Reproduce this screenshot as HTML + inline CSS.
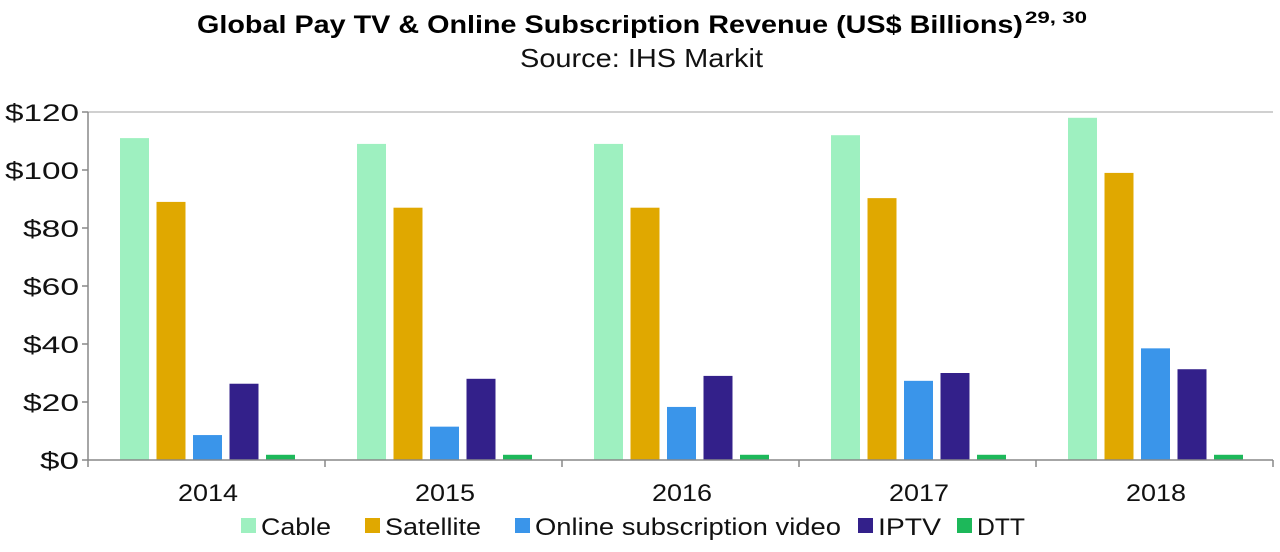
<!DOCTYPE html>
<html><head><meta charset="utf-8"><style>
body{margin:0;background:#fff;width:1280px;height:547px;overflow:hidden;font-family:"Liberation Sans",sans-serif;}
</style></head><body>
<svg width="1280" height="547" xmlns="http://www.w3.org/2000/svg" font-family="Liberation Sans, sans-serif">
<text x="197" y="33" font-size="25" font-weight="bold" fill="#000" textLength="826" lengthAdjust="spacingAndGlyphs">Global Pay TV &amp; Online Subscription Revenue (US$ Billions)</text>
<text x="1025" y="23" font-size="17" font-weight="bold" fill="#000" textLength="62" lengthAdjust="spacingAndGlyphs">29, 30</text>
<text x="520" y="67" font-size="26" fill="#111" textLength="243" lengthAdjust="spacingAndGlyphs">Source: IHS Markit</text>
<line x1="88" y1="112" x2="1273" y2="112" stroke="#d0d0d0" stroke-width="2"/>
<g font-size="24" fill="#111" text-anchor="end" lengthAdjust="spacingAndGlyphs">
<text x="79" y="121" textLength="74" lengthAdjust="spacingAndGlyphs">$120</text>
<text x="79" y="179" textLength="74" lengthAdjust="spacingAndGlyphs">$100</text>
<text x="79" y="237" textLength="56" lengthAdjust="spacingAndGlyphs">$80</text>
<text x="79" y="295" textLength="56" lengthAdjust="spacingAndGlyphs">$60</text>
<text x="79" y="353" textLength="56" lengthAdjust="spacingAndGlyphs">$40</text>
<text x="79" y="411" textLength="56" lengthAdjust="spacingAndGlyphs">$20</text>
<text x="79" y="469" textLength="39" lengthAdjust="spacingAndGlyphs">$0</text>
</g>
<g>
<rect x="120" y="138.1" width="29" height="321.9" fill="#9ef0c0"/>
<rect x="156.5" y="201.9" width="29" height="258.1" fill="#e0a800"/>
<rect x="193" y="435.06" width="29" height="24.94" fill="#3a95ea"/>
<rect x="229.5" y="383.73" width="29" height="76.27" fill="#33208a"/>
<rect x="266" y="454.78" width="29" height="5.22" fill="#1db85a"/>

<rect x="357" y="143.9" width="29" height="316.1" fill="#9ef0c0"/>
<rect x="393.5" y="207.7" width="29" height="252.3" fill="#e0a800"/>
<rect x="430" y="426.65" width="29" height="33.35" fill="#3a95ea"/>
<rect x="466.5" y="378.8" width="29" height="81.2" fill="#33208a"/>
<rect x="503" y="454.78" width="29" height="5.22" fill="#1db85a"/>

<rect x="594" y="143.9" width="29" height="316.1" fill="#9ef0c0"/>
<rect x="630.5" y="207.7" width="29" height="252.3" fill="#e0a800"/>
<rect x="667" y="406.93" width="29" height="53.07" fill="#3a95ea"/>
<rect x="703.5" y="375.9" width="29" height="84.1" fill="#33208a"/>
<rect x="740" y="454.78" width="29" height="5.22" fill="#1db85a"/>

<rect x="831" y="135.2" width="29" height="324.8" fill="#9ef0c0"/>
<rect x="867.5" y="198.13" width="29" height="261.87" fill="#e0a800"/>
<rect x="904" y="380.83" width="29" height="79.17" fill="#3a95ea"/>
<rect x="940.5" y="373" width="29" height="87" fill="#33208a"/>
<rect x="977" y="454.78" width="29" height="5.22" fill="#1db85a"/>

<rect x="1068" y="117.8" width="29" height="342.2" fill="#9ef0c0"/>
<rect x="1104.5" y="172.9" width="29" height="287.1" fill="#e0a800"/>
<rect x="1141" y="348.35" width="29" height="111.65" fill="#3a95ea"/>
<rect x="1177.5" y="369.23" width="29" height="90.77" fill="#33208a"/>
<rect x="1214" y="454.78" width="29" height="5.22" fill="#1db85a"/>
</g>
<g stroke="#888" stroke-width="1.5">
<line x1="88" y1="112" x2="88" y2="460"/>
<line x1="82" y1="112" x2="88" y2="112"/><line x1="82" y1="170" x2="88" y2="170"/><line x1="82" y1="228" x2="88" y2="228"/><line x1="82" y1="286" x2="88" y2="286"/><line x1="82" y1="344" x2="88" y2="344"/><line x1="82" y1="402" x2="88" y2="402"/>
<line x1="82" y1="460" x2="1273" y2="460"/>
<line x1="88" y1="460" x2="88" y2="467"/><line x1="325" y1="460" x2="325" y2="467"/><line x1="562" y1="460" x2="562" y2="467"/><line x1="799" y1="460" x2="799" y2="467"/><line x1="1036" y1="460" x2="1036" y2="467"/><line x1="1273" y1="460" x2="1273" y2="467"/>
</g>
<g font-size="24" fill="#111" text-anchor="middle">
<text x="208" y="501" textLength="60" lengthAdjust="spacingAndGlyphs">2014</text>
<text x="445" y="501" textLength="60" lengthAdjust="spacingAndGlyphs">2015</text>
<text x="682" y="501" textLength="60" lengthAdjust="spacingAndGlyphs">2016</text>
<text x="919" y="501" textLength="60" lengthAdjust="spacingAndGlyphs">2017</text>
<text x="1156" y="501" textLength="60" lengthAdjust="spacingAndGlyphs">2018</text>
</g>
<g font-size="24" fill="#111">
<rect x="241" y="518" width="15" height="15" fill="#9ef0c0"/><text x="261" y="535" textLength="70" lengthAdjust="spacingAndGlyphs">Cable</text>
<rect x="365" y="518" width="15" height="15" fill="#e0a800"/><text x="385" y="535" textLength="96" lengthAdjust="spacingAndGlyphs">Satellite</text>
<rect x="515" y="518" width="15" height="15" fill="#3a95ea"/><text x="535" y="535" textLength="306" lengthAdjust="spacingAndGlyphs">Online subscription video</text>
<rect x="858" y="518" width="15" height="15" fill="#33208a"/><text x="878" y="535" textLength="63" lengthAdjust="spacingAndGlyphs">IPTV</text>
<rect x="957" y="518" width="15" height="15" fill="#1db85a"/><text x="977" y="535" textLength="48" lengthAdjust="spacingAndGlyphs">DTT</text>
</g>
</svg>
</body></html>
